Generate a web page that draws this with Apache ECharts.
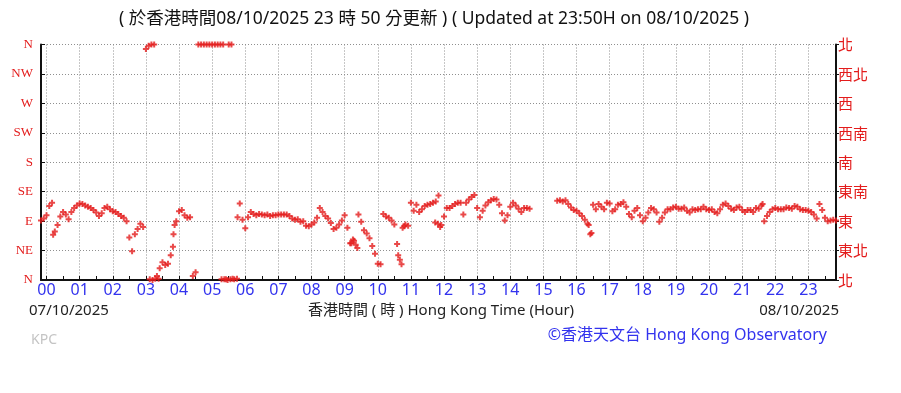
<!DOCTYPE html>
<html>
<head>
<meta charset="utf-8">
<script src="https://cdn.jsdelivr.net/npm/echarts@6/dist/echarts.min.js"></script>
<style>
html,body{margin:0;padding:0;background:#fff;}
#chart{width:901px;height:393px;}
</style>
</head>
<body>
<div id="chart"></div>
<script>
// ---- data ----
// wind direction (degrees, 0/360 = N) every 5 minutes, starting at -10 min (23:50 previous day) up to 23:50
var startMinute = -10;
var stepMinutes = 5;
var dirEvery5Min = [
  91, 94,
  // 00
  99, 113, 118, 74, 84, 97, 104, 100, 93, 104, 110, 114,
  // 01
  117, 116, 114, 112, 110, 107, 103, 98, 102, 110, 112, 108,
  // 02
  105, 104, 101, 98, 95, 90, 65, 44, 70, 78, 86, 81,
  // 03
  353, 358, 360, 360, 6, 18, 27, 23, 25, 38, 70, 90,
  // 04
  105, 107, 99, 95, 96, 6, 12, 360, 360, 360, 360, 360,
  // 05
  360, 360, 360, 360, 360, 1, 360, 360, 1, 2, 117, 92,
  // 06
  79, 96, 104, 101, 99, 101, 100, 99, 100, 98, 99, 99,
  // 07
  100, 100, 100, 100, 98, 94, 92, 93, 89, 90, 83, 82,
  // 08
  85, 88, 95, 110, 104, 98, 94, 87, 78, 80, 85, 91,
  // 09
  99, 80, 56, 62, 54, 100, 89, 76, 71, 64, 52, 40,
  // 10
  25, 24, 101, 97, 95, 91, 85, 55, 31, 80, 85, 83,
  // 11
  118, 106, 115, 104, 108, 113, 115, 116, 118, 120, 129, 84,
  // 12
  97, 110, 110, 113, 116, 118, 118, 100, 118, 123, 127, 130,
  // 13
  110, 96, 106, 114, 119, 122, 124, 123, 115, 102, 91, 99,
  // 14
  112, 118, 114, 109, 104, 110, 110, 109, null, null, null, null,
  // 15
  null, null, null, null, null, 121, 122, 120, 122, 116, 111, 107,
  // 16
  106, 102, 98, 92, 86, 70, 115, 108, 116, 112, 108, 118,
  // 17
  117, 105, 108, 115, 116, 119, 112, 101, 96, 106, 110, 99,
  // 18
  90, 95, 103, 110, 108, 103, 89, 95, 103, 108, 108, 111,
  // 19
  112, 109, 109, 111, 106, 103, 108, 107, 108, 108, 112, 108,
  // 20
  107, 108, 104, 102, 108, 115, 117, 113, 109, 107, 111, 112,
  // 21
  107, 104, 107, 107, 104, 110, 109, 114, 90, 98, 104, 108,
  // 22
  110, 108, 108, 108, 111, 110, 109, 113, 112, 108, 107, 107,
  // 23
  106, 104, 100, 94, 116, 107, 95, 90, 91, 92, 91
];
// additional readings where the trace splits (N wrap-around and side branches)
var extraMinutes = [12, 187, 192, 197, 203, 229, 232, 317, 322, 328, 333, 337, 346, 552, 557, 563, 637, 643, 648, 704, 709, 713, 982, 987, 1297];
var extraDirs    = [69, 1, 0, 2, 2, 51, 84, 1, 1, 0, 1, 2, 96, 56, 60, 49, 38, 24, 82, 88, 86, 81, 84, 72, 116];

var hourLabels = ['00','01','02','03','04','05','06','07','08','09','10','11','12','13','14','15','16','17','18','19','20','21','22','23'];
var dirLabelsEn = ['N','NE','E','SE','S','SW','W','NW','N'];
var dirLabelsZh = ['北','東北','東','東南','南','西南','西','西北','北'];
var endMinute = 1430;

// ---- build ----
var cats = [];
for (var m = startMinute; m <= endMinute; m++) cats.push(m);
function idx(min){ return min - startMinute; }
var pts = [];
dirEvery5Min.forEach(function(v, i){
  if (v === null) return;
  pts.push([idx(startMinute + i*stepMinutes), v]);
});
extraMinutes.forEach(function(mm, i){ pts.push([idx(mm), extraDirs[i]]); });

var RED = '#e31c1c';
var BLUE = '#3333ee';
var GRIDC = '#8f8f8f';
var sansFont = "'Noto Sans', 'Noto Sans CJK TC', sans-serif";

var chart = echarts.init(document.getElementById('chart'), null, {renderer:'canvas'});
chart.setOption({
  animation: false,
  backgroundColor: '#fff',
  grid: {left: 41, right: 65, top: 44.5, bottom: 113},
  xAxis: {
    type: 'category',
    data: cats,
    boundaryGap: false,
    axisLine: {show: true, lineStyle: {color: '#111', width: 2}},
    axisTick: {show: true, inside: true, length: 4, lineStyle: {color: '#111'},
      interval: function(i){ return (i + startMinute) % 30 === 0; }},
    axisLabel: {
      interval: function(i){ return (i + startMinute) % 60 === 0 && (i + startMinute) >= 0; },
      formatter: function(v){ return hourLabels[Math.round(v/60)]; },
      color: BLUE, fontSize: 16, fontFamily: sansFont, margin: 2
    },
    splitLine: {show: true, interval: function(i){ return (i + startMinute) % 60 === 0 && (i + startMinute) >= 0; },
      lineStyle: {color: GRIDC, type: [1, 2], width: 1}}
  },
  yAxis: [{
    type: 'value', min: 0, max: 360, interval: 45, position: 'left',
    axisLine: {show: true, lineStyle: {color: '#111', width: 2}},
    axisTick: {show: true, inside: true, length: 4, lineStyle: {color: '#111'}},
    axisLabel: {formatter: function(v){ return dirLabelsEn[Math.round(v/45)]; },
      color: RED, fontSize: 13, fontFamily: "'Liberation Serif', serif", margin: 8},
    splitLine: {show: true, lineStyle: {color: GRIDC, type: [1, 2], width: 1}}
  }, {
    type: 'value', min: 0, max: 360, interval: 45, position: 'right',
    axisLine: {show: true, lineStyle: {color: '#111', width: 2}},
    axisTick: {show: true, inside: false, length: 3, lineStyle: {color: '#111'}},
    axisLabel: {formatter: function(v){ return dirLabelsZh[Math.round(v/45)]; },
      color: RED, fontSize: 15, fontFamily: "'Noto Sans CJK TC', sans-serif", margin: 2},
    splitLine: {show: false}
  }],
  series: [{
    type: 'scatter',
    xAxisIndex: 0, yAxisIndex: 0,
    data: pts,
    symbol: 'path://M3,0H6V3H9V6H6V9H3V6H0V3H3Z',
    symbolSize: 6,
    itemStyle: {color: RED},
    silent: true
  }],
  graphic: [
    {type:'text', x: 434, y: 19, style:{text:'( 於香港時間08/10/2025 23 時 50 分更新 ) ( Updated at 23:50H on 08/10/2025 )', fill:'#111', font:"17.5px 'Noto Sans', 'Noto Sans CJK TC', sans-serif", textAlign:'center', textVerticalAlign:'middle'}},
    {type:'text', x: 29, y: 311, style:{text:'07/10/2025', fill:'#222', font:"15px 'Noto Sans', sans-serif", textAlign:'left', textVerticalAlign:'middle'}},
    {type:'text', x: 441, y: 311, style:{text:'香港時間 ( 時 ) Hong Kong Time (Hour)', fill:'#222', font:"15px 'Noto Sans', 'Noto Sans CJK TC', sans-serif", textAlign:'center', textVerticalAlign:'middle'}},
    {type:'text', x: 839, y: 311, style:{text:'08/10/2025', fill:'#222', font:"15px 'Noto Sans', sans-serif", textAlign:'right', textVerticalAlign:'middle'}},
    {type:'text', x: 31, y: 340, style:{text:'KPC', fill:'#c4c4c4', font:"14px 'Noto Sans', sans-serif", textAlign:'left', textVerticalAlign:'middle'}},
    {type:'text', x: 827, y: 335, style:{text:'©香港天文台 Hong Kong Observatory', fill:BLUE, font:"16px 'Noto Sans', 'Noto Sans CJK TC', sans-serif", textAlign:'right', textVerticalAlign:'middle'}}
  ]
});
</script>
</body>
</html>
